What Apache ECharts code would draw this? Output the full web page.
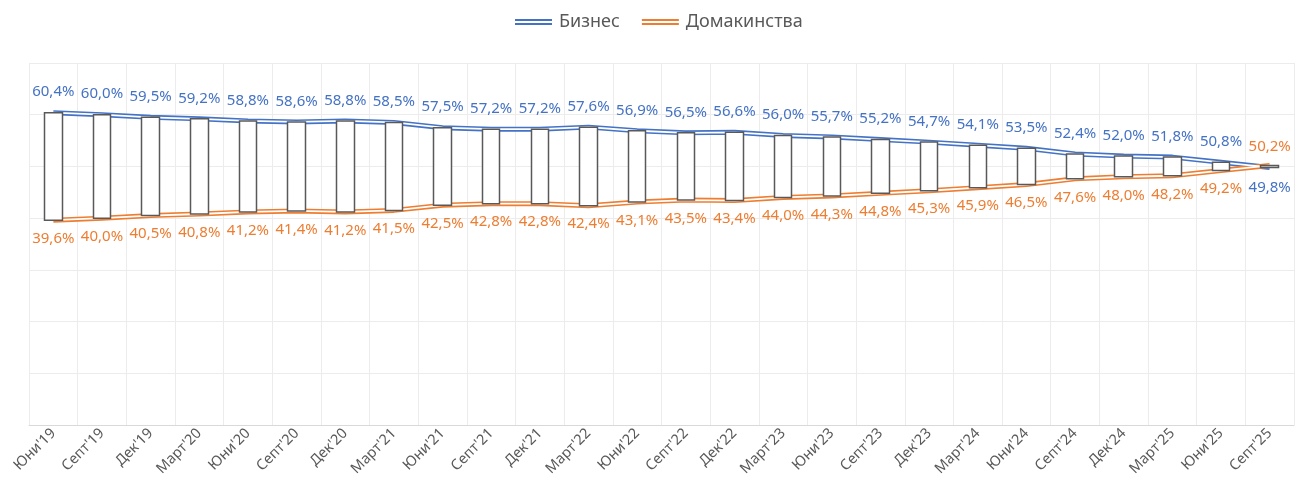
<!DOCTYPE html>
<html>
<head>
<meta charset="utf-8">
<script src="https://cdn.jsdelivr.net/npm/echarts@6/dist/echarts.min.js"></script>
<style>
  html, body { margin: 0; padding: 0; background: #fff; }
  #chart { width: 1298px; height: 491px; }
</style>
</head>
<body>
<div id="chart"></div>
<script>
// квартали
var periods = ["Юни'19", "Септ'19", "Дек'19", "Март'20", "Юни'20", "Септ'20", "Дек'20", "Март'21",
  "Юни'21", "Септ'21", "Дек'21", "Март'22", "Юни'22", "Септ'22", "Дек'22", "Март'23",
  "Юни'23", "Септ'23", "Дек'23", "Март'24", "Юни'24", "Септ'24", "Дек'24", "Март'25",
  "Юни'25", "Септ'25"];

var business = [60.4, 60.0, 59.5, 59.2, 58.8, 58.6, 58.8, 58.5, 57.5, 57.2, 57.2, 57.6, 56.9,
  56.5, 56.6, 56.0, 55.7, 55.2, 54.7, 54.1, 53.5, 52.4, 52.0, 51.8, 50.8, 49.8];

var households = [39.6, 40.0, 40.5, 40.8, 41.2, 41.4, 41.2, 41.5, 42.5, 42.8, 42.8, 42.4, 43.1,
  43.5, 43.4, 44.0, 44.3, 44.8, 45.3, 45.9, 46.5, 47.6, 48.0, 48.2, 49.2, 50.2];

var blue = '#4472C4';
var orange = '#ED7D31';
var fontFam = '"Noto Sans", sans-serif';

function fmt(v) {
  return v.toFixed(1).replace('.', ',') + '%';
}

// up-down bars between the two lines
var boxes = business.map(function (b, i) {
  var h = households[i];
  return [b, h, Math.min(b, h), Math.max(b, h)];
});

// label above the higher line, below the lower one
function labelled(arr, other) {
  return arr.map(function (v, i) {
    return {
      value: v,
      label: { position: v >= other[i] ? 'top' : 'bottom' }
    };
  });
}

var doubleIcon = 'path://M0,0H36V2H0Z M0,4H36V6H0Z';

var chart = echarts.init(document.getElementById('chart'));
chart.setOption({
  animation: false,
  textStyle: { fontFamily: fontFam },
  legend: {
    top: 8,
    left: 510,
    itemWidth: 37,
    itemHeight: 7,
    itemGap: 22,
    textStyle: { color: '#595959', fontSize: 18, fontFamily: fontFam, padding: [0, 0, 0, 2] },
    data: [
      { name: 'Бизнес', icon: doubleIcon },
      { name: 'Домакинства', icon: doubleIcon }
    ]
  },
  grid: { left: 29, right: 4, top: 63, bottom: 66, containLabel: false },
  xAxis: {
    type: 'category',
    data: periods,
    boundaryGap: true,
    axisLine: { lineStyle: { color: '#d9d9d9', width: 1 } },
    axisTick: { show: false },
    splitLine: { show: true, lineStyle: { color: '#ececec' } },
    axisLabel: {
      interval: 0,
      rotate: 45,
      color: '#595959',
      fontSize: 14.5,
      fontFamily: fontFam,
      margin: 6
    }
  },
  yAxis: {
    type: 'value',
    min: 0,
    max: 70,
    interval: 10,
    axisLabel: { show: false },
    axisLine: { show: false },
    axisTick: { show: false },
    splitLine: { lineStyle: { color: '#ececec' } }
  },
  series: [
    {
      name: 'Бизнес',
      type: 'line',
      data: labelled(business, households),
      symbol: 'circle',
      symbolSize: 0,
      z: 2,
      lineStyle: { color: blue, width: 5 },
      itemStyle: { color: blue },
      label: {
        show: true,
        color: blue,
        fontSize: 15,
        distance: 13,
        formatter: function (p) { return fmt(p.value); }
      }
    },
    {
      name: 'Домакинства',
      type: 'line',
      data: labelled(households, business),
      symbol: 'circle',
      symbolSize: 0,
      z: 2,
      lineStyle: { color: orange, width: 5 },
      itemStyle: { color: orange },
      label: {
        show: true,
        color: orange,
        fontSize: 15,
        distance: 11,
        formatter: function (p) { return fmt(p.value); }
      }
    },
    {
      name: 'b-inner',
      type: 'line',
      data: business,
      symbol: 'none',
      silent: true,
      z: 3,
      lineStyle: { color: '#fff', width: 1.8 }
    },
    {
      name: 'h-inner',
      type: 'line',
      data: households,
      symbol: 'none',
      silent: true,
      z: 3,
      lineStyle: { color: '#fff', width: 1.8 }
    },
    {
      name: 'updown',
      type: 'candlestick',
      data: boxes,
      barWidth: 18,
      z: 4,
      itemStyle: {
        color: '#fff',
        color0: '#fff',
        borderColor: '#595959',
        borderColor0: '#595959',
        borderWidth: 1.5
      }
    }
  ]
});
</script>
</body>
</html>
